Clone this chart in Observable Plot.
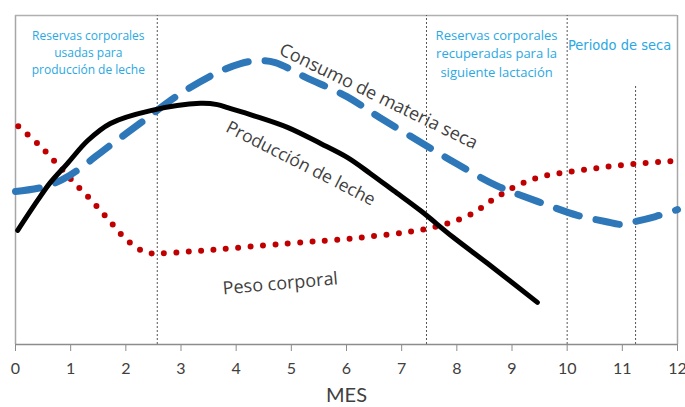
<!DOCTYPE html>
<html><head><meta charset="utf-8">
<script src="https://cdn.jsdelivr.net/npm/d3@7"></script>
<script src="https://cdn.jsdelivr.net/npm/@observablehq/plot@0.6"></script>
<style>html,body{margin:0;padding:0;background:#fff} svg{display:block}</style>
</head><body><div id="chart"></div>
<script>
// Producción de leche (black)
const milkMonth = [0.04,0.40,0.63,0.94,1.31,1.72,2.45,3.35,3.66,3.86,4.31,4.93,5.53,6.02,6.43,6.85,7.34,7.94,8.56,9.46];
const milkValue = [34.7,43.8,49.2,55.0,62.0,67.2,71.1,73.3,72.9,71.9,69.6,66.0,61.1,56.8,52.0,46.8,40.7,32.5,24.6,12.8];
// Consumo de materia seca (blue dashed)
const intakeMonth = [0.0,0.54,0.98,1.69,2.28,2.94,3.63,4.08,4.40,4.71,5.26,6.00,6.60,7.29,7.99,8.72,9.46,10.20,10.69,10.97,11.24,11.60,12.0];
const intakeValue = [46.5,48.0,51.4,60.2,67.5,75.7,82.4,85.4,86.3,85.7,81.2,75.4,69.0,62.0,55.0,48.3,43.5,39.2,37.4,36.5,37.4,38.9,41.0];
// Peso corporal (red dotted)
const weightMonth = [0.05,0.40,0.73,1.03,1.36,1.67,1.99,2.36,2.59,3.35,4.93,6.25,7.40,7.83,8.28,8.66,9.06,9.48,9.93,10.40,10.85,11.30,11.70,12.0];
const weightValue = [66.3,61.1,55.3,49.8,44.1,38.3,32.2,28.0,27.7,28.5,30.7,32.5,35.0,36.8,39.8,44.1,48.0,50.8,52.2,53.3,54.3,55.0,55.5,55.9];
// Divisiones verticales
const dividerMonth = [2.57,7.45,10.0,11.24];
const dividerTop = [100,100,100,78.7];
// Eje
const tickMonths = [0,1,2,3,4,5,6,7,8,9,10,11,12];
const axisTitle = "MES";
// Textos
const phaseLabels = ["Reservas corporales\nusadas para\nproducción de leche", "Reservas corporales\nrecuperadas para la\nsiguiente lactación"];
const phaseMonth = [1.32, 8.72];
const phaseValue = [89.1, 88.8];
const phaseSize = [12, 13];
const dryLabel = "Periodo de seca";
const curveLabels = ["Consumo de materia seca", "Producción de leche", "Peso corporal"];
const curveLabelMonth = [6.58, 5.17, 4.80];
const curveLabelValue = [75.4, 55.0, 18.5];
const curveLabelAngle = [26, 27, -5];
const curveLabelSize = [18, 17.5, 18];

const toRows = (xs, ys) => xs.map((x, i) => ({x, y: ys[i]}));
const milk = toRows(milkMonth, milkValue);
const intake = toRows(intakeMonth, intakeValue);
const weight = toRows(weightMonth, weightValue);
const dividers = dividerMonth.map((x, i) => ({x, top: dividerTop[i]}));
const phases = phaseLabels.map((t, i) => ({t, x: phaseMonth[i], y: phaseValue[i], s: phaseSize[i]}));
const curveTexts = curveLabels.map((t, i) => ({t, x: curveLabelMonth[i], y: curveLabelValue[i], r: curveLabelAngle[i], s: curveLabelSize[i]}));

const cyan = "#2aa8e3";
const gray = "#404040";
const chart = Plot.plot({
  width: 685, height: 407,
  marginLeft: 15, marginRight: 8, marginTop: 15, marginBottom: 63,
  style: {fontFamily: "'Open Sans', sans-serif", background: "#fff"},
  x: {domain: [0, 12]},
  y: {domain: [0, 100], axis: null},
  marks: [
    Plot.ruleX([0, 12], {stroke: "#a6a6a6", strokeWidth: 1.5}),
    Plot.ruleY([100], {stroke: "#b0b0b0", strokeWidth: 1.5}),
    Plot.ruleX(dividers, {x: "x", y1: 0, y2: "top", stroke: "#555", strokeWidth: 1, strokeDasharray: "2,2"}),
    Plot.ruleY([0], {stroke: "#8c8c8c", strokeWidth: 1.5}),
    Plot.axisX({ticks: tickMonths, tickSize: 7, tickPadding: 11, fontSize: 16, stroke: "#8c8c8c", fill: gray, tickFormat: d => String(d), label: null, fontFamily: "Lato, sans-serif"}),
    Plot.text([{x: 6, t: axisTitle}], {x: "x", text: "t", frameAnchor: "bottom", lineAnchor: "bottom", dy: 57, fontSize: 20, fill: gray, fontFamily: "Lato, sans-serif"}),
    Plot.line(weight, {x: "x", y: "y", curve: "catmull-rom", stroke: "#c00000", strokeWidth: 6, strokeDasharray: "0,12.4", strokeLinecap: "round"}),
    Plot.line(intake, {x: "x", y: "y", curve: "catmull-rom", stroke: "#2e78b9", strokeWidth: 7, strokeDasharray: "24,17"}),
    Plot.line(milk, {x: "x", y: "y", curve: "catmull-rom", stroke: "#000", strokeWidth: 5}),
    Plot.text(phases.slice(0, 1), {x: "x", y: "y", text: "t", fill: cyan, fontSize: phaseSize[0], lineHeight: 1.45}),
    Plot.text(phases.slice(1, 2), {x: "x", y: "y", text: "t", fill: cyan, fontSize: phaseSize[1], lineHeight: 1.45}),
    Plot.text([{x: 10.95, y: 90.9, t: dryLabel}], {x: "x", y: "y", text: "t", fill: cyan, fontSize: 14.5, fontFamily: "'DejaVu Sans Condensed', sans-serif"}),
    ...curveTexts.map(d => Plot.text([d], {x: "x", y: "y", text: "t", rotate: d.r, fill: gray, fontSize: d.s}))
  ]
});
document.getElementById("chart").appendChild(chart);
</script>
</body></html>
